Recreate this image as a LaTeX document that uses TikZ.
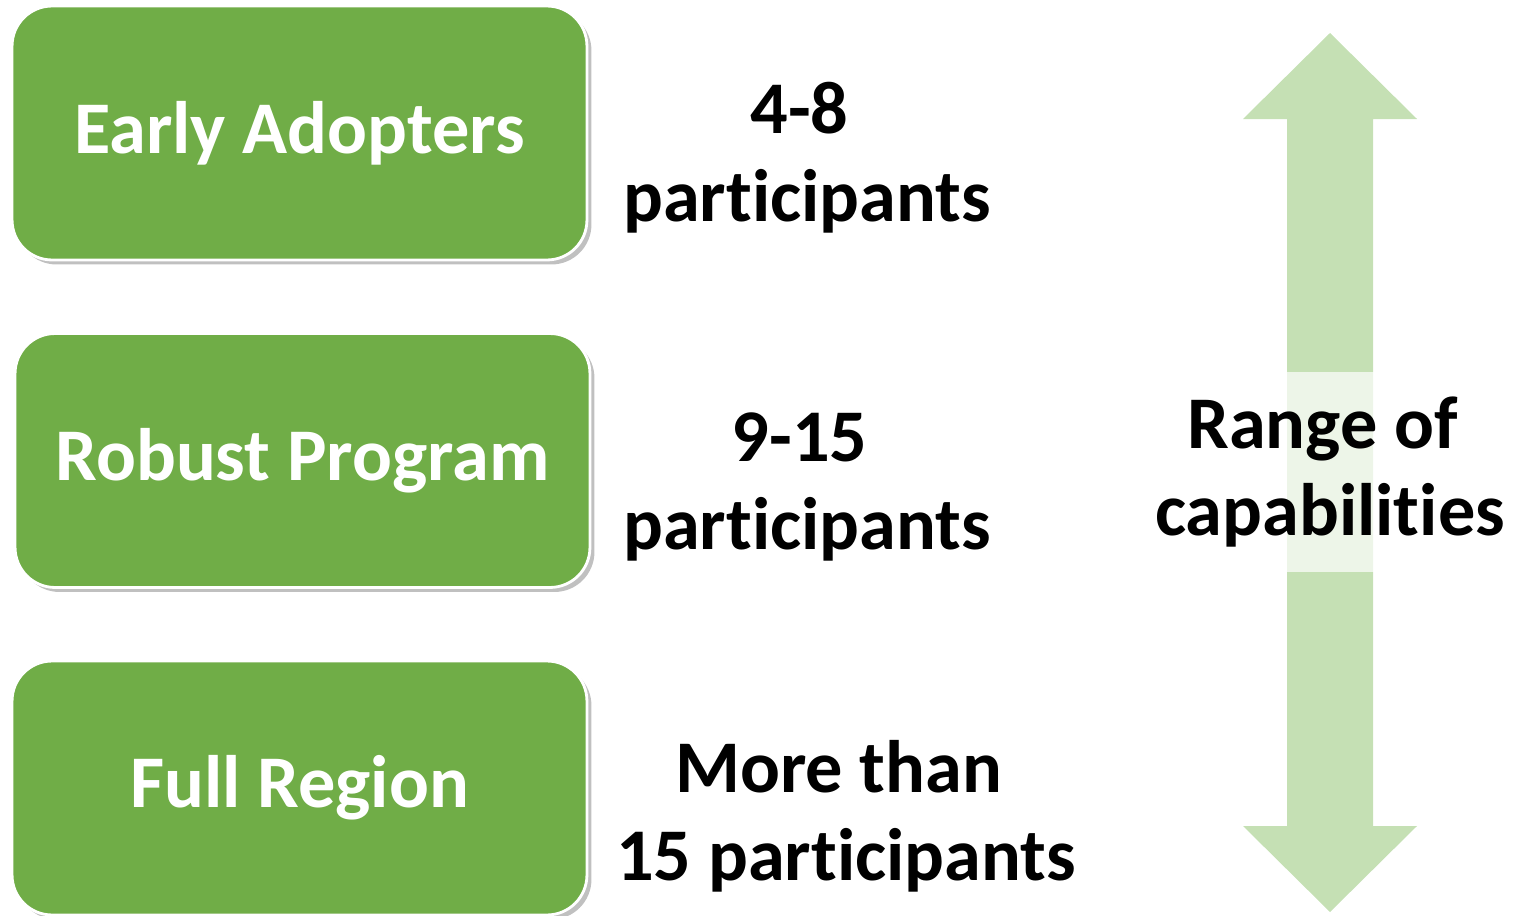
\documentclass[tikz,border=0pt]{standalone}
\usepackage{fontspec}
\setmainfont{Carlito}[Ligatures=NoCommon]
\usepackage{tikz}
\usetikzlibrary{positioning}

\definecolor{boxgreen}{HTML}{70AD47}
\definecolor{arrowgreen}{HTML}{C5E0B4}

\newcommand{\trail}{\hspace*{0.2em}}

\tikzset{
  stage/.style={rectangle,rounded corners=0.8cm,fill=boxgreen,draw=white,line width=1.6pt,
    minimum width=11.5cm,minimum height=5.08cm,text=white,
    font=\fontsize{42.3}{52}\selectfont\bfseries},
  stageshadow/.style={rectangle,rounded corners=0.8cm,fill=black!45,fill opacity=0.55,
    minimum width=11.5cm,minimum height=5.08cm},
  count/.style={align=center,inner sep=0pt,font=\fontsize{42.3}{50}\selectfont\bfseries}
}

\begin{document}
\begin{tikzpicture}[x=0.02cm,y=-0.02cm]
	\useasboundingbox (0,0) rectangle (1516,916);
	% range arrow
	\fill[arrowgreen] (1330,33) -- (1417,119) -- (1373,119) -- (1373,826) -- (1417,826)
		-- (1330,912) -- (1243,826) -- (1287,826) -- (1287,119) -- (1243,119) -- cycle;
	% shadows
	\node[stageshadow] at (304,137.5) {};
	\node[stageshadow] at (307,465) {};
	\node[stageshadow] at (304,792.5) {};
	% stages
	\node[stage] (early) at (299.5,133) {Early Adopters};
	\node[stage] (robust) at (302.5,460.5) {Robust Program};
	\node[stage] (full) at (299.5,788) {Full Region};
	% participants
	\node[count] (c1) at (807,158) {4-8\trail\\participants};
	\node[count] (c2) at (807,487) {9-15\trail\\participants};
	\node[count] (c3) at (846,816) {More than\trail\\15 participants};
	\node[count,fill=white,fill opacity=0.7,text opacity=1,minimum height=4.02cm,inner xsep=2pt]
		(range) at (1330,472) {Range of\trail\\capabilities};
\end{tikzpicture}
\end{document}
